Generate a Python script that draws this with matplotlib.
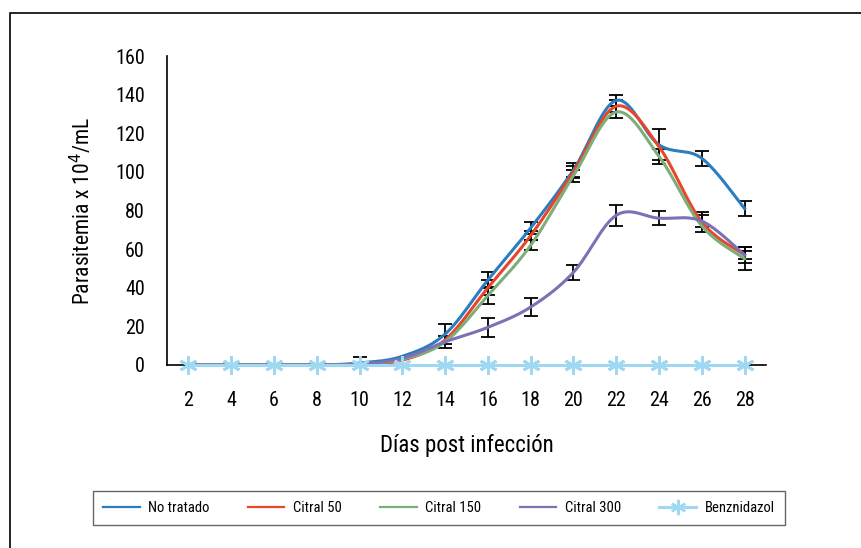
import numpy as np
import matplotlib.pyplot as plt
from matplotlib.patches import Rectangle
from matplotlib import font_manager

names = {f.name for f in font_manager.fontManager.ttflist}
fam = [n for n in ['Roboto Condensed', 'Liberation Sans Narrow', 'Liberation Sans'] if n in names]
plt.rcParams['font.family'] = fam + ['DejaVu Sans']

days = [2, 4, 6, 8, 10, 12, 14, 16, 18, 20, 22, 24, 26, 28]

no_tratado = [0, 0, 0, 0, 1, 4.5, 16, 44, 71, 101, 137, 114, 107, 81]
citral_50 = [0, 0, 0, 0, 0.5, 2.5, 13, 40, 67, 100, 134, 113, 74, 57]
citral_150 = [0, 0, 0, 0, 0.5, 3, 12, 36, 62, 98, 131, 108, 72, 55]
citral_300 = [0, 0, 0, 0, 0.5, 3.5, 12, 19.5, 30, 48, 77.5, 76, 74.5, 57]
benznidazol = [0] * 14

err_no_tratado = [0, 0, 0, 0, 3, 0, 5, 4, 3, 3.5, 3, 8, 4, 4]
err_citral_50 = [0, 0, 0, 0, 0, 0, 0, 4, 2.5, 3, 3, 0, 5, 4]
err_citral_150 = [0, 0, 0, 0, 0, 0, 3, 4.5, 2.5, 3, 3, 4, 0, 6]
err_citral_300 = [0, 0, 0, 0, 0, 0, 0, 5, 4.5, 4, 5.5, 3.5, 3, 2]

labels = ["No tratado", "Citral 50", "Citral 150", "Citral 300", "Benznidazol"]
colors = ["#2A7DBE", "#E8462B", "#7BAE78", "#7A72B4", "#9ED8F2"]


def smooth(x, y, n=20):
    # catmull-rom curve through the points, like excel's smoothed line
    x = np.asarray(x, float)
    y = np.asarray(y, float)
    px = np.concatenate([[x[0]], x, [x[-1]]])
    py = np.concatenate([[y[0]], y, [y[-1]]])
    xs, ys = [], []
    t = np.linspace(0, 1, n)
    for i in range(1, len(px) - 2):
        for p, out in ((px, xs), (py, ys)):
            p0, p1, p2, p3 = p[i - 1], p[i], p[i + 1], p[i + 2]
            m1 = (p2 - p0) / 6
            m2 = (p3 - p1) / 6
            c = ((1 - t) ** 3 * p1 + 3 * (1 - t) ** 2 * t * (p1 + m1)
                 + 3 * (1 - t) * t ** 2 * (p2 - m2) + t ** 3 * p2)
            out.extend(c)
    return np.array(xs), np.array(ys)


fig = plt.figure(figsize=(8.61, 5.48), dpi=100)
ax = fig.add_axes([167 / 861, 1 - 365 / 548, (766 - 167) / 861, (365 - 56) / 548])

xpos = np.arange(len(days))
series = [no_tratado, citral_50, citral_150, citral_300]
errs = [err_no_tratado, err_citral_50, err_citral_150, err_citral_300]

for vals, err in zip(series, errs):
    e = np.array(err, float)
    m = e > 0
    ax.errorbar(xpos[m], np.array(vals)[m], yerr=e[m], fmt='none', ecolor='black',
                elinewidth=1.3, capsize=4.7, capthick=1.3, zorder=2)

handles = []
for vals, c, lab in zip(series, colors[:4], labels[:4]):
    sx, sy = smooth(xpos, vals)
    h, = ax.plot(sx, sy, color=c, lw=2.2, label=lab, zorder=3)
    handles.append(h)

h, = ax.plot(xpos, benznidazol, color=colors[4], lw=2.2, marker=(6, 2, 0), markersize=13,
             markeredgewidth=2.0, label=labels[4], zorder=4, clip_on=False)
handles.append(h)

ax.set_xlim(-0.5, len(days) - 0.5)
ax.set_ylim(0, 160)
ax.set_yticks(range(0, 161, 20))
ax.set_xticks(xpos)
ax.set_xticklabels([str(d) for d in days])
ax.tick_params(axis='both', length=0, labelsize=14.5)
ax.tick_params(axis='x', pad=19)
ax.tick_params(axis='y', pad=16)
ax.spines['top'].set_visible(False)
ax.spines['right'].set_visible(False)
ax.spines['left'].set_linewidth(1.2)
ax.spines['bottom'].set_linewidth(1.2)

ax.set_ylabel("Parasitemia x 10$^{4}$/mL", fontsize=15.5, labelpad=14)
ax.set_xlabel("Días post infección", fontsize=16.5, labelpad=17)

leg = fig.legend(handles, labels, ncol=5, loc='lower left', mode='expand',
                 bbox_to_anchor=(93 / 861, 1 - 525 / 548, (785 - 93) / 861, 34 / 548),
                 fontsize=10.5, frameon=True, fancybox=False, handlelength=2.5,
                 handletextpad=0.6, borderaxespad=0, borderpad=0.7)
leg.get_frame().set_edgecolor('#404040')
leg.get_frame().set_linewidth(1.0)
for lh in leg.legend_handles[:4]:
    lh.set_linewidth(1.6)
leg.legend_handles[4].set_markersize(11)
leg.legend_handles[4].set_markeredgewidth(1.6)

fig.patches.append(Rectangle((10 / 861, -0.1), 1.2, 1 - 13 / 548 + 0.1, transform=fig.transFigure,
                             fill=False, edgecolor='black', lw=1.2))

fig.savefig("out.png", dpi=100)
